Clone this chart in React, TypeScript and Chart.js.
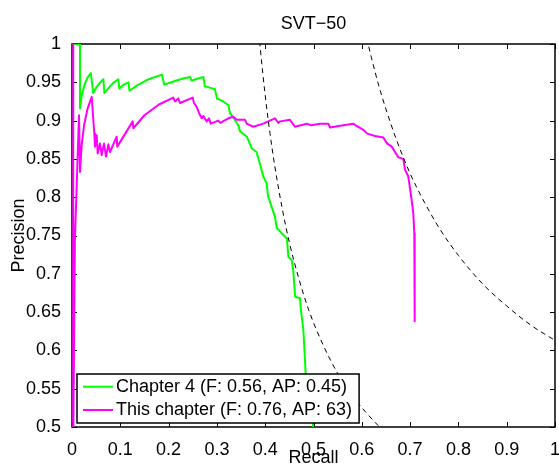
import React, { useEffect, useRef } from "react";
import { Chart, registerables } from "chart.js";

Chart.register(...registerables);

const TITLE = "SVT−50";
const X_LABEL = "Recall";
const Y_LABEL = "Precision";

const xTickValues = [0, 0.1, 0.2, 0.3, 0.4, 0.5, 0.6, 0.7, 0.8, 0.9, 1];
const xTickLabels = ["0", "0.1", "0.2", "0.3", "0.4", "0.5", "0.6", "0.7", "0.8", "0.9", "1"];
const yTickValues = [0.5, 0.55, 0.6, 0.65, 0.7, 0.75, 0.8, 0.85, 0.9, 0.95, 1];
const yTickLabels = ["0.5", "0.55", "0.6", "0.65", "0.7", "0.75", "0.8", "0.85", "0.9", "0.95", "1"];

const seriesLabels = ["Chapter 4 (F: 0.56, AP: 0.45)", "This chapter (F: 0.76, AP: 63)"];
const seriesColors = ["#00ff00", "#ff00ff"];

// [recall, precision]
const chapter4Curve: [number, number][] = [
  [0, 1.0], [0.0166, 1.0], [0.0166, 0.916], [0.02, 0.932], [0.026, 0.947], [0.032, 0.956],
  [0.039, 0.962], [0.044, 0.936], [0.05, 0.943], [0.057, 0.949], [0.065, 0.954], [0.067, 0.936],
  [0.075, 0.942], [0.085, 0.949], [0.096, 0.954], [0.098, 0.942], [0.107, 0.947], [0.117, 0.95],
  [0.119, 0.939], [0.135, 0.946], [0.155, 0.953], [0.172, 0.957], [0.186, 0.96], [0.191, 0.947],
  [0.21, 0.951], [0.23, 0.955], [0.244, 0.957], [0.248, 0.952], [0.26, 0.955], [0.272, 0.957],
  [0.275, 0.945], [0.285, 0.943], [0.296, 0.941], [0.3, 0.929], [0.313, 0.925], [0.324, 0.92],
  [0.327, 0.91], [0.335, 0.903], [0.344, 0.894], [0.348, 0.886], [0.362, 0.879], [0.372, 0.864],
  [0.382, 0.859], [0.389, 0.844], [0.396, 0.827], [0.403, 0.818], [0.406, 0.801], [0.413, 0.788],
  [0.42, 0.775], [0.424, 0.76], [0.434, 0.753], [0.445, 0.746], [0.448, 0.722], [0.455, 0.718],
  [0.458, 0.705], [0.462, 0.67], [0.472, 0.668], [0.474, 0.653], [0.479, 0.627], [0.482, 0.592],
  [0.484, 0.566], [0.49, 0.54], [0.4996, 0.5], [0.502, 0.48],
];

const thisChapterCurve: [number, number][] = [
  [0.0025, 1.0], [0.0025, 0.47], [0.006, 0.744], [0.0145, 0.907], [0.0166, 0.833], [0.02, 0.868],
  [0.025, 0.894], [0.032, 0.915], [0.0408, 0.931], [0.0462, 0.883], [0.0476, 0.866], [0.0511, 0.881],
  [0.0532, 0.857], [0.058, 0.87], [0.0615, 0.855], [0.0663, 0.87], [0.0704, 0.853], [0.0752, 0.869],
  [0.0787, 0.859], [0.0925, 0.879], [0.0938, 0.866], [0.1257, 0.899], [0.127, 0.89], [0.15, 0.907],
  [0.18, 0.921], [0.2097, 0.93], [0.2133, 0.925], [0.22, 0.929], [0.2236, 0.923], [0.2499, 0.93],
  [0.2526, 0.923], [0.258, 0.918], [0.263, 0.91], [0.2685, 0.903], [0.272, 0.906], [0.279, 0.899],
  [0.2836, 0.903], [0.2872, 0.896], [0.3029, 0.9], [0.307, 0.897], [0.3236, 0.903], [0.334, 0.905],
  [0.341, 0.901], [0.3582, 0.901], [0.3617, 0.896], [0.3754, 0.892], [0.396, 0.896], [0.4203, 0.903],
  [0.4271, 0.897], [0.4306, 0.899], [0.4513, 0.901], [0.4617, 0.892], [0.4859, 0.896], [0.495, 0.894],
  [0.5135, 0.896], [0.5306, 0.896], [0.5342, 0.891], [0.5617, 0.894], [0.5824, 0.896], [0.5894, 0.893],
  [0.6031, 0.888], [0.6114, 0.883], [0.6273, 0.88], [0.6445, 0.878], [0.6528, 0.87], [0.6619, 0.866],
  [0.6708, 0.857], [0.6756, 0.852], [0.6859, 0.85], [0.6894, 0.836], [0.6963, 0.827], [0.7033, 0.796],
  [0.7066, 0.779], [0.7087, 0.753], [0.7095, 0.638],
];

// iso-F reference curves (F = 0.56 and F = 0.76)
const isoF056Curve: [number, number][] = [
  [0.385, 1.027], [0.39, 0.993], [0.4, 0.933], [0.41, 0.883], [0.42, 0.84], [0.435, 0.786],
  [0.45, 0.741], [0.47, 0.693], [0.49, 0.653], [0.52, 0.607], [0.55, 0.57], [0.58, 0.541],
  [0.61, 0.518], [0.64, 0.498], [0.66, 0.486],
];
const isoF076Curve: [number, number][] = [
  [0.61, 1.008], [0.62, 0.982], [0.635, 0.946], [0.65, 0.915], [0.67, 0.878], [0.7, 0.831],
  [0.73, 0.793], [0.76, 0.76], [0.8, 0.724], [0.85, 0.687], [0.9, 0.658], [0.95, 0.633], [1.0, 0.613],
];

const FONT_FAMILY = '"Liberation Sans", Arial, Helvetica, sans-serif';

const toPoints = (c: [number, number][]) => c.map(([x, y]) => ({ x, y }));

const matlabFrame = {
  id: "matlabFrame",
  beforeDatasetsDraw(chart: any) {
    const { ctx, chartArea: ca, scales } = chart;
    ctx.save();
    // inward ticks on all four sides
    const tl = 5;
    ctx.strokeStyle = "#000";
    ctx.lineWidth = 1;
    ctx.beginPath();
    xTickValues.forEach((v) => {
      const x = Math.round(scales.x.getPixelForValue(v)) + 0.5;
      ctx.moveTo(x, ca.bottom);
      ctx.lineTo(x, ca.bottom - tl);
      ctx.moveTo(x, ca.top);
      ctx.lineTo(x, ca.top + tl);
    });
    yTickValues.forEach((v) => {
      const y = Math.round(scales.y.getPixelForValue(v)) + 0.5;
      ctx.moveTo(ca.left, y);
      ctx.lineTo(ca.left + tl, y);
      ctx.moveTo(ca.right, y);
      ctx.lineTo(ca.right - tl, y);
    });
    ctx.stroke();
    // axes box
    ctx.lineWidth = 1.5;
    ctx.strokeRect(ca.left, ca.top, ca.right - ca.left, ca.bottom - ca.top);
    ctx.restore();
  },
  afterDatasetsDraw(chart: any) {
    const { ctx, chartArea: ca } = chart;
    ctx.save();
    // legend box (lower-left, inside axes)
    const legendItems = chart.data.datasets.filter((d: any) => d.inLegend);
    ctx.font = `18px ${FONT_FAMILY}`;
    let maxW = 0;
    legendItems.forEach((d: any) => {
      maxW = Math.max(maxW, ctx.measureText(d.label).width);
    });
    const boxLeft = ca.left + 5;
    const boxBottom = ca.bottom - 4;
    const boxH = 49;
    const boxTop = boxBottom - boxH;
    const boxW = 39 + maxW + 7;
    ctx.fillStyle = "#ffffff";
    ctx.fillRect(boxLeft, boxTop, boxW, boxH);
    ctx.lineWidth = 1.5;
    ctx.strokeStyle = "#000";
    ctx.strokeRect(boxLeft, boxTop, boxW, boxH);
    legendItems.forEach((d: any, i: number) => {
      const y = boxTop + 12.7 + i * 23.3;
      ctx.beginPath();
      ctx.strokeStyle = d.borderColor;
      ctx.lineWidth = 2;
      ctx.moveTo(boxLeft + 6, y);
      ctx.lineTo(boxLeft + 36, y);
      ctx.stroke();
      ctx.fillStyle = "#000";
      ctx.textBaseline = "middle";
      ctx.textAlign = "left";
      ctx.fillText(d.label, boxLeft + 39, y);
    });
    ctx.restore();
  },
};

export default function App() {
  const canvasRef = useRef<HTMLCanvasElement | null>(null);

  useEffect(() => {
    if (!canvasRef.current) return;
    Chart.defaults.font.family = FONT_FAMILY;
    Chart.defaults.font.size = 18;
    Chart.defaults.color = "#000";

    const chart = new Chart(canvasRef.current, {
      type: "line",
      data: {
        datasets: [
          {
            label: "F=0.56",
            data: toPoints(isoF056Curve),
            borderColor: "#000",
            borderWidth: 1,
            borderDash: [5, 4],
            cubicInterpolationMode: "monotone",
            pointRadius: 0,
            clip: 0,
            order: 1,
            inLegend: false,
          } as any,
          {
            label: "F=0.76",
            data: toPoints(isoF076Curve),
            borderColor: "#000",
            borderWidth: 1,
            borderDash: [5, 4],
            cubicInterpolationMode: "monotone",
            pointRadius: 0,
            clip: 0,
            order: 2,
            inLegend: false,
          } as any,
          {
            label: seriesLabels[0],
            data: toPoints(chapter4Curve),
            borderColor: seriesColors[0],
            borderWidth: 2,
            borderJoinStyle: "round",
            tension: 0,
            pointRadius: 0,
            clip: 0,
            order: 4,
            inLegend: true,
          } as any,
          {
            label: seriesLabels[1],
            data: toPoints(thisChapterCurve),
            borderColor: seriesColors[1],
            borderWidth: 2,
            borderJoinStyle: "round",
            tension: 0,
            pointRadius: 0,
            clip: { left: 2, top: 0, right: 0, bottom: 0 },
            order: 3,
            inLegend: true,
          } as any,
        ],
      },
      options: {
        animation: false,
        responsive: false,
        devicePixelRatio: 1,
        events: [],
        layout: { padding: { left: 0, right: 4, top: 0, bottom: 0 } },
        plugins: {
          legend: { display: false },
          tooltip: { enabled: false },
          title: {
            display: true,
            text: TITLE,
            color: "#000",
            fullSize: false,
            font: { size: 18, weight: "normal", family: FONT_FAMILY },
            padding: { top: 13.5, bottom: 8.9 },
          },
        },
        scales: {
          x: {
            type: "linear",
            position: "bottom",
            min: 0,
            max: 1,
            grid: { display: false },
            border: { display: false },
            afterBuildTicks: (s: any) => {
              s.ticks = xTickValues.map((v) => ({ value: v }));
            },
            afterFit: (s: any) => {
              s.height = 38;
              s.paddingLeft = 0;
              s.paddingRight = 0;
            },
            ticks: {
              autoSkip: false,
              maxRotation: 0,
              minRotation: 0,
              padding: 4,
              color: "#000",
              font: { size: 18 },
              callback: (_v: any, i: number) => xTickLabels[i],
            },
            title: {
              display: true,
              text: X_LABEL,
              color: "#000",
              font: { size: 18, lineHeight: 0.8 },
              padding: { top: 0, bottom: 0 },
            },
          },
          y: {
            type: "linear",
            position: "left",
            min: 0.5,
            max: 1,
            grid: { display: false },
            border: { display: false },
            afterBuildTicks: (s: any) => {
              s.ticks = yTickValues.map((v) => ({ value: v }));
            },
            afterFit: (s: any) => {
              s.width = 72;
              s.paddingTop = 0;
              s.paddingBottom = 0;
            },
            ticks: {
              autoSkip: false,
              padding: 3,
              color: "#000",
              font: { size: 18 },
              callback: (_v: any, i: number) => yTickLabels[i],
            },
            title: {
              display: true,
              text: Y_LABEL,
              color: "#000",
              font: { size: 18 },
              padding: { top: 8, bottom: 0 },
            },
          },
        },
      } as any,
      plugins: [matlabFrame],
    });

    return () => chart.destroy();
  }, []);

  return (
    <div style={{ position: "fixed", left: 0, top: 0, width: 559, height: 465, background: "#fff" }}>
      <canvas ref={canvasRef} width={559} height={465} style={{ display: "block", width: 559, height: 465 }} />
    </div>
  );
}
